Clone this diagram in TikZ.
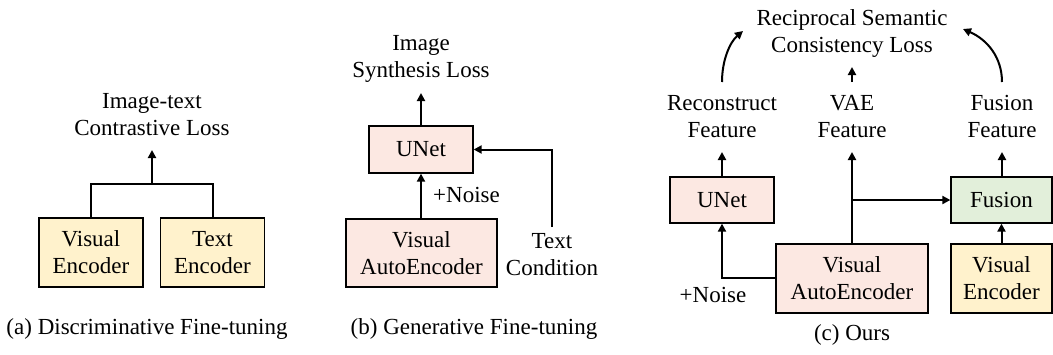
\documentclass[tikz,border=0pt]{standalone}
\usepackage{fontspec}
\setmainfont{Liberation Serif}
\usetikzlibrary{arrows.meta}
\definecolor{boxpink}{RGB}{252,232,226}
\definecolor{boxyellow}{RGB}{255,242,204}
\definecolor{boxgreen}{RGB}{226,239,218}
\tikzset{
  lbl/.style={font=\fontsize{23}{27}\selectfont, align=center, inner sep=0pt},
  block/.style={draw=black, line width=1.3pt, font=\fontsize{23}{27}\selectfont,
                align=center, inner sep=0pt},
  pinkbox/.style={block, fill=boxpink},
  yellowbox/.style={block, fill=boxyellow},
  greenbox/.style={block, fill=boxgreen},
  flow/.style={line width=2pt, -{Triangle[length=8pt,width=8pt]}},
  wire/.style={line width=2pt},
}
\begin{document}
\begin{tikzpicture}[x=1pt,y=-1pt]
\useasboundingbox (0,0) rectangle (1053,354);

% ---------- (a) discriminative fine-tuning ----------
\node[yellowbox, minimum width=104pt, minimum height=69pt] (aVE) at (91,252.5) {Visual\\Encoder};
\node[yellowbox, minimum width=104pt, minimum height=69pt] (aTE) at (212.5,252.5) {Text\\Encoder};
% multi-line labels are placed by the baseline of their last line
\node[lbl, anchor=base] (aLoss) at (152,135) {Image-text\\Contrastive Loss};
\coordinate (aJoin) at (152,184);
\coordinate (aTip) at (152,150);
\draw[wire] (aVE.north) |- (aJoin) -| (aTE.north);
\draw[flow] (aJoin) -- (aTip);
\node[lbl, anchor=base] (aCap) at (147,334) {(a) Discriminative Fine-tuning};

% ---------- (b) generative fine-tuning ----------
\node[pinkbox, minimum width=104pt, minimum height=47pt] (bUNet) at (421,149.5) {UNet};
\node[pinkbox, minimum width=151pt, minimum height=68pt] (bVAE) at (421.5,253) {Visual\\AutoEncoder};
\node[lbl, anchor=base] (bLoss) at (421,77) {Image\\Synthesis Loss};
\node[lbl, anchor=base west] (bNoise) at (433,202) {+Noise};
\node[lbl, anchor=base] (bText) at (552,275) {Text\\Condition};
\coordinate (bTip) at (421,93);
\coordinate (bTextTop) at (552,227);
\draw[flow] (bVAE.north -| bUNet.south) -- (bUNet.south);
\draw[flow] (bUNet.north) -- (bTip);
\draw[flow] (bTextTop) |- (bUNet.east);
\node[lbl, anchor=base] (bCap) at (474,334) {(b) Generative Fine-tuning};

% ---------- (c) ours ----------
\node[pinkbox, minimum width=104pt, minimum height=46pt] (cUNet) at (722,200) {UNet};
\node[greenbox, minimum width=101pt, minimum height=46pt] (cFusion) at (1001.5,200) {Fusion};
\node[pinkbox, minimum width=152pt, minimum height=69pt] (cVAE) at (852,278.5) {Visual\\AutoEncoder};
\node[yellowbox, minimum width=101pt, minimum height=69pt] (cVE) at (1001.5,278.5) {Visual\\Encoder};

\node[lbl, anchor=base] (cRec) at (722,137) {Reconstruct\\Feature};
\node[lbl, anchor=base] (cVAEf) at (852,137) {VAE\\Feature};
\node[lbl, anchor=base] (cFusf) at (1002,137) {Fusion\\Feature};
\node[lbl, anchor=base] (cLoss) at (852,52) {Reciprocal Semantic\\Consistency Loss};
\node[lbl, anchor=base] (cNoise) at (713,302) {+Noise};

\coordinate (cRecTip) at (722,152);
\coordinate (cVAETip) at (852,152);
\coordinate (cFusTip) at (1002,152);
\coordinate (cBranch) at (852,200);
\coordinate (cRecTop) at (722,82);
\coordinate (cVAETop) at (852,82);
\coordinate (cFusTop) at (1002,82);
\coordinate (cLeftEnd) at (743,31);
\coordinate (cMidEnd) at (852,67);
\coordinate (cRightEnd) at (963,29);

\draw[flow] (cVAE.west |- 0,278) -| (cUNet.south);
\draw[flow] (cUNet.north) -- (cRecTip);
\draw[flow] (cVAE.north) -- (cVAETip);
\draw[flow] (cBranch) -- (cFusion.west);
\draw[flow] (cVE.north -| cFusion.south) -- (cFusion.south);
\draw[flow] (cFusion.north -| cFusTip) -- (cFusTip);
\draw[flow] (cRecTop) .. controls (722,60) and (730,42) .. (cLeftEnd);
\draw[flow] (cVAETop) -- (cMidEnd);
\draw[flow] (cFusTop) .. controls (1002,58) and (988,40) .. (cRightEnd);
\node[lbl, anchor=base] (cCap) at (852,340) {(c) Ours};
\end{tikzpicture}
\end{document}
